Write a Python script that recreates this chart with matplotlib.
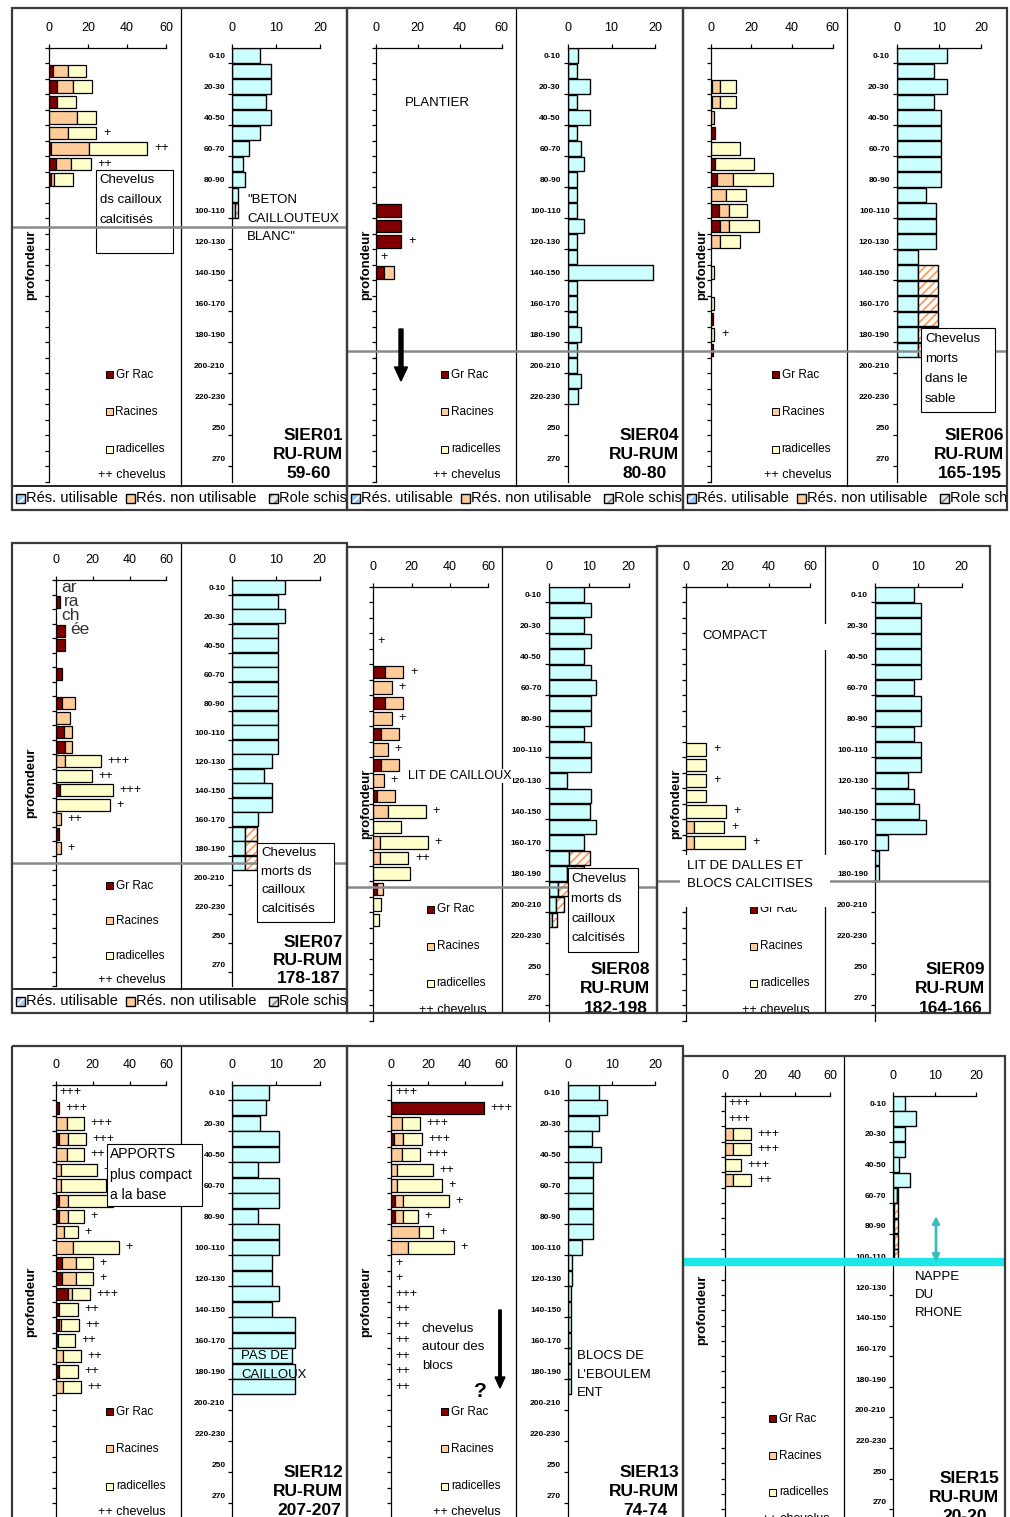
import numpy as np
import matplotlib.pyplot as plt
from matplotlib.patches import Rectangle, FancyArrow

plt.rcParams['font.family'] = ['Liberation Sans', 'DejaVu Sans']
plt.rcParams['hatch.linewidth'] = 1.3

W, H = 1010, 1517
NROWS = 28

# classes de profondeur (cm)
depth_labels = ['0-10', '10-20', '20-30', '30-40', '40-50', '50-60', '60-70', '70-80',
                '80-90', '90-100', '100-110', '110-120', '120-130', '130-140',
                '140-150', '150-160', '160-170', '170-180', '180-190', '190-200',
                '200-210', '210-220', '220-230', '230-240', '250', '260', '270', '280']

# --- SIER01 ---
sier01_gr = [0, 2.0, 4.0, 4.0, 0, 0, 1.0, 3.9, 1.2]
sier01_rac = [0, 7.7, 8.6, 0, 14.3, 9.7, 19.6, 7.5, 1.3]
sier01_rad = [0, 9.5, 9.5, 9.7, 10.0, 14.6, 29.6, 10.0, 9.9]
sier01_chev = ['', '', '', '', '', '+', '++', '++', '']
sier01_ru = [6.3, 8.9, 8.9, 7.6, 8.9, 6.3, 3.7, 2.4, 3.0, 1.4, 0.7]
sier01_nu = [0, 0, 0, 0, 0, 0, 0, 0, 0, 0, 0.6]

# --- SIER04 ---
sier04_gr = [0, 0, 0, 0, 0, 0, 0, 0, 0, 0, 11.9, 11.9, 11.9, 0, 3.8]
sier04_rac = [0, 0, 0, 0, 0, 0, 0, 0, 0, 0, 0, 0, 0, 0, 4.8]
sier04_rad = [0, 0, 0, 0, 0, 0, 0, 0, 0, 0, 0, 0, 0, 0, 0]
sier04_chev = ['', '', '', '', '', '', '', '', '', '', '', '', '+', '+', '']
sier04_ru = [2.4, 2.2, 5.2, 2.2, 5.2, 2.2, 3.1, 3.8, 2.2, 2.2, 2.2, 3.8, 2.2, 2.2,
             19.5, 2.2, 2.2, 2.2, 3.1, 2.2, 2.2, 3.1, 2.4]
sier04_nu = []

# --- SIER06 ---
sier06_gr = [0, 0, 0.8, 0.8, 0, 2.0, 0, 2.0, 3.3, 0, 3.9, 4.8, 0, 0, 0, 0, 0, 1.0, 0, 1.0]
sier06_rac = [0, 0, 3.8, 3.8, 1.5, 0, 0, 0, 7.5, 7.5, 5.0, 4.1, 4.6, 0, 0, 0, 0, 0, 0, 0]
sier06_rad = [0, 0, 7.7, 7.7, 0, 0, 14.4, 19.3, 19.7, 10.0, 9.1, 14.7, 9.8, 0, 1.6, 0, 1.6, 0, 1.6, 0]
sier06_chev = ['', '', '', '', '', '', '', '', '', '', '', '', '', '', '', '', '', '', '+', '']
sier06_ru = [12.0, 8.9, 12.0, 8.9, 10.5, 10.5, 10.5, 10.5, 10.5, 6.9, 9.4, 9.4, 9.4,
             5.1, 5.1, 5.1, 5.1, 5.1, 5.1, 5.1]
sier06_nu = [0, 0, 0, 0, 0, 0, 0, 0, 0, 0, 0, 0, 0, 0, 4.6, 4.6, 4.6, 4.6, 4.6, 4.6]

# --- SIER07 ---
sier07_gr = [0, 2.0, 0, 5.1, 5.1, 0, 3.3, 0, 3.3, 0, 4.5, 5.1, 0, 0, 2.0, 0, 0, 1.5, 0]
sier07_rac = [0, 0, 0, 0, 0, 0, 0, 0, 7.2, 7.4, 4.2, 3.6, 4.7, 0, 0, 0, 2.5, 0, 2.5]
sier07_rad = [0, 0, 0, 0, 0, 0, 0, 0, 0, 0, 0, 0, 19.9, 19.6, 29.2, 29.3, 0, 0, 0]
sier07_chev = ['', '', '', '', '', '', '', '', '', '', '', '', '+++', '++', '+++', '+', '++', '', '+']
sier07_ru = [12.0, 10.4, 12.0, 10.4, 10.4, 10.4, 10.4, 10.4, 10.4, 10.4, 10.4, 10.4,
             9.0, 7.3, 9.0, 9.0, 5.8, 3.0, 3.0, 3.0]
sier07_nu = [0, 0, 0, 0, 0, 0, 0, 0, 0, 0, 0, 0, 0, 0, 0, 0, 0, 2.6, 2.6, 2.6]

# --- SIER08 ---
sier08_gr = [0, 0, 0, 0, 0, 6.1, 0, 6.1, 0, 3.8, 0, 3.8, 0, 2.1, 0, 0, 0, 0, 0, 2.1, 0, 0]
sier08_rac = [0, 0, 0, 0, 0, 9.6, 9.6, 9.6, 9.6, 9.6, 7.5, 9.6, 5.4, 9.3, 7.5, 0, 3.3, 3.3, 0, 3.1, 0, 0]
sier08_rad = [0, 0, 0, 0, 0, 0, 0, 0, 0, 0, 0, 0, 0, 0, 19.8, 14.4, 25.0, 15.0, 19.3, 0, 4.2, 3.1]
sier08_chev = ['', '', '', '+', '', '+', '+', '', '+', '', '+', '', '+', '', '+', '', '+', '++',
               '', '', '', '']
sier08_ru = [8.9, 10.5, 8.9, 10.5, 8.9, 10.5, 11.8, 10.5, 10.5, 8.9, 10.5, 10.5, 4.6,
             10.5, 10.2, 11.8, 8.9, 5.1, 4.6, 2.4, 1.8, 0.9]
sier08_nu = [0, 0, 0, 0, 0, 0, 0, 0, 0, 0, 0, 0, 0, 0, 0, 0, 0, 5.2, 4.1, 2.3, 1.9, 1.2]

# --- SIER09 ---
sier09_gr = [0, 0, 0, 0, 0, 0, 0, 0, 0, 0, 0, 0, 0, 0, 0, 0, 0]
sier09_rac = [0, 0, 0, 0, 0, 0, 0, 0, 0, 0, 0, 0, 0, 0, 0, 3.7, 3.7]
sier09_rad = [0, 0, 0, 0, 0, 0, 0, 0, 0, 0, 9.8, 9.8, 9.8, 9.8, 19.4, 14.5, 24.8]
sier09_chev = ['', '', '', '', '', '', '', '', '', '', '+', '', '+', '', '+', '+', '+']
sier09_ru = [9.0, 10.5, 10.5, 10.5, 10.5, 10.5, 9.0, 10.5, 10.5, 9.0, 10.5, 10.5, 7.7,
             9.0, 10.2, 11.8, 3.1, 1.0, 1.0]
sier09_nu = []

# --- SIER12 ---
sier12_gr = [0, 1.8, 0, 1.4, 0, 0, 0, 1.8, 1.8, 0, 0, 3.1, 3.1, 6.3, 1.4, 1.4, 1.3, 0, 1.8, 0]
sier12_rac = [0, 0, 5.8, 4.9, 5.8, 2.7, 2.7, 4.7, 4.5, 4.3, 9.4, 7.6, 7.6, 2.4, 0, 1.1, 0, 4.0, 0, 4.0]
sier12_rad = [0, 0, 9.6, 10.2, 9.6, 19.8, 24.3, 24.7, 8.7, 7.8, 25.0, 9.6, 9.6, 9.8, 10.4, 9.8,
              9.2, 9.6, 10.0, 9.6]
sier12_chev = ['+++', '+++', '+++', '+++', '++', '+', '', '', '+', '+', '+', '+', '+', '+++',
               '++', '++', '++', '++', '++', '++']
sier12_ru = [8.4, 7.6, 6.3, 10.7, 10.7, 5.8, 10.7, 10.7, 5.8, 10.7, 10.7, 9.0, 9.0, 10.7,
             9.0, 14.4, 14.4, 13.6, 14.4, 14.4]
sier12_nu = []

# --- SIER13 ---
sier13_gr = [0, 50.2, 0, 1.3, 0, 0, 0, 1.8, 1.8, 0, 0]
sier13_rac = [0, 0, 6.0, 5.2, 6.0, 2.9, 2.9, 4.7, 4.7, 14.9, 9.2]
sier13_rad = [0, 0, 9.4, 10.0, 9.4, 19.9, 24.8, 24.7, 8.2, 7.7, 25.0]
sier13_chev = ['+++', '+++', '+++', '+++', '+++', '++', '+', '+', '+', '+', '+', '+', '+', '+++',
               '++', '++', '++', '++', '++', '++']
sier13_ru = [7.2, 8.9, 7.2, 5.4, 7.5, 5.8, 5.8, 5.8, 5.8, 5.8, 3.1, 1.0, 1.0,
             0.6, 0.6, 0.6, 0.6, 0.6, 0.6, 0.6]
sier13_nu = []

# --- SIER15 ---
sier15_gr = [0, 0, 0, 0, 0, 0]
sier15_rac = [0, 0, 4.6, 4.6, 0, 4.6]
sier15_rad = [0, 0, 10.1, 10.1, 9.2, 10.1]
sier15_chev = ['+++', '+++', '+++', '+++', '+++', '++']
sier15_ru = [2.8, 5.4, 2.8, 2.8, 1.4, 4.1, 0.8, 0.1, 0.1, 0.1, 0.1]
sier15_nu = [0, 0, 0, 0, 0, 0, 0.4, 1.1, 1.1, 1.1, 1.1]

C_GR, C_RAC, C_RAD = '#800000', '#ffcc99', '#ffffcc'
C_RU, C_HATCH = '#ccffff', '#ff9c5c'

# mise en page (pixels)
panels = [
    dict(name='SIER01', rum='59-60', box=(12, 8, 347, 510), lx=(48.7, 166.3), rx=(232.3, 320.0),
         ytop=47.7, rh=15.5, div=180.5, legend=True, tx=343, shift=0,
         gr=sier01_gr, rac=sier01_rac, rad=sier01_rad, chev=sier01_chev, ru=sier01_ru, nu=sier01_nu),
    dict(name='SIER04', rum='80-80', box=(347, 8, 683, 510), lx=(375.7, 501.7), rx=(567.7, 655.3),
         ytop=47.7, rh=15.5, div=516, legend=True, tx=679, shift=0,
         gr=sier04_gr, rac=sier04_rac, rad=sier04_rad, chev=sier04_chev, ru=sier04_ru, nu=sier04_nu),
    dict(name='SIER06', rum='165-195', box=(683, 8, 1007, 510), lx=(710.7, 832.7), rx=(896.7, 981.3),
         ytop=47.7, rh=15.5, div=846.7, legend=True, tx=1004, shift=0,
         gr=sier06_gr, rac=sier06_rac, rad=sier06_rad, chev=sier06_chev, ru=sier06_ru, nu=sier06_nu),
    dict(name='SIER07', rum='178-187', box=(12, 543, 347, 1013), lx=(56, 166.3), rx=(232.3, 319.7),
         ytop=580, rh=14.5, div=180.7, legend=True, tx=343, shift=0,
         gr=sier07_gr, rac=sier07_rac, rad=sier07_rad, chev=sier07_chev, ru=sier07_ru, nu=sier07_nu),
    dict(name='SIER08', rum='182-198', box=(347, 547, 657, 1013), lx=(373.3, 488.3), rx=(548.7, 628.7),
         ytop=586.7, rh=15.5, div=501.7, legend=False, tx=650, shift=-0.3,
         gr=sier08_gr, rac=sier08_rac, rad=sier08_rad, chev=sier08_chev, ru=sier08_ru, nu=sier08_nu),
    dict(name='SIER09', rum='164-166', box=(657, 546, 990, 1013), lx=(686, 810), rx=(875, 961.7),
         ytop=586.7, rh=15.5, div=825, legend=False, tx=985, shift=-0.3,
         gr=sier09_gr, rac=sier09_rac, rad=sier09_rad, chev=sier09_chev, ru=sier09_ru, nu=sier09_nu),
    dict(name='SIER12', rum='207-207', box=(12, 1046, 347, 1530), lx=(56, 166.3), rx=(232.3, 319.7),
         ytop=1084.6, rh=15.5, div=181, legend=False, tx=343, shift=0,
         gr=sier12_gr, rac=sier12_rac, rad=sier12_rad, chev=sier12_chev, ru=sier12_ru, nu=sier12_nu),
    dict(name='SIER13', rum='74-74', box=(347, 1046, 683, 1530), lx=(391.3, 501.7), rx=(568, 655.3),
         ytop=1084.6, rh=15.5, div=516, legend=False, tx=679, shift=0,
         gr=sier13_gr, rac=sier13_rac, rad=sier13_rad, chev=sier13_chev, ru=sier13_ru, nu=sier13_nu),
    dict(name='SIER15', rum='20-20', box=(683, 1056, 1005, 1530), lx=(725.3, 830), rx=(893.3, 976.3),
         ytop=1095.7, rh=15.32, div=844.3, legend=False, tx=999, shift=0,
         gr=sier15_gr, rac=sier15_rac, rad=sier15_rad, chev=sier15_chev, ru=sier15_ru, nu=sier15_nu),
]

fig = plt.figure(figsize=(W / 100, H / 100), dpi=100)


def px_axes(x0, y0, x1, y1, z=0):
    return fig.add_axes([x0 / W, 1 - y1 / H, (x1 - x0) / W, (y1 - y0) / H], zorder=z)


def pad(v):
    v = np.asarray(v, dtype=float)
    return np.pad(v, (0, NROWS - len(v)))


def style(ax, xmax, xticks):
    ax.set_xlim(0, xmax)
    ax.set_ylim(NROWS, 0)
    ax.patch.set_visible(False)
    for s in ('right', 'bottom'):
        ax.spines[s].set_visible(False)
    for s in ('top', 'left'):
        ax.spines[s].set_linewidth(0.9)
    ax.xaxis.tick_top()
    ax.set_xticks(xticks)
    ax.tick_params(axis='x', length=3, width=0.9, labelsize=9, pad=7)


def draw_site(p):
    x0, y0, x1, y1 = p['box']
    ytop, rh = p['ytop'], p['rh']
    ybot = ytop + NROWS * rh
    rows = np.arange(NROWS) + 0.5

    # racines (gauche)
    axl = px_axes(p['lx'][0], ytop, p['lx'][1], ybot, z=1)
    style(axl, 60, [0, 20, 40, 60])
    axl.set_yticks(np.arange(0, NROWS + 1))
    axl.set_yticklabels([])
    axl.tick_params(axis='y', length=3, width=0.9)
    lefts = np.zeros(NROWS)
    for vals, col in ((pad(p['gr']), C_GR), (pad(p['rac']), C_RAC), (pad(p['rad']), C_RAD)):
        m = vals > 0
        axl.barh(rows[m], vals[m], left=lefts[m], height=0.8, color=col,
                 edgecolor='black', linewidth=0.9)
        lefts = lefts + vals
    for r, s in enumerate(p['chev']):
        if s:
            x = lefts[r] + 3.5 if lefts[r] > 0 else 2.0
            axl.text(x, r + 0.5, s, fontsize=9, va='center', ha='left')

    # reserve utile (droite)
    axr = px_axes(p['rx'][0], ytop, p['rx'][1], ybot, z=1)
    style(axr, 20, [0, 10, 20])
    axr.set_yticks(np.arange(0, NROWS, 2) + 0.5, labels=depth_labels[::2])
    axr.set_yticks(np.arange(1, NROWS, 2), minor=True)
    axr.tick_params(axis='y', which='major', length=0, pad=5, labelsize=6)
    axr.tick_params(axis='y', which='minor', length=3, width=0.9)
    for t in axr.get_yticklabels():
        t.set_fontweight('bold')
    ru, nu = pad(p['ru']), pad(p['nu'])
    m = ru > 0
    axr.barh(rows[m], ru[m], height=0.95, color=C_RU, edgecolor='black', linewidth=1)
    m = nu > 0
    axr.barh(rows[m], nu[m], left=ru[m], height=0.95, color='white', edgecolor=C_HATCH,
             hatch='////', linewidth=0)
    axr.barh(rows[m], nu[m], left=ru[m], height=0.95, fill=False, edgecolor='black', linewidth=1)

    # calque en pixels du panneau
    ov = px_axes(x0, y0, x1, y1, z=5)
    ov.set_xlim(x0, x1)
    ov.set_ylim(y1, y0)
    ov.axis('off')

    def Y(r):
        return ytop + r * rh

    sh = p['shift']
    div = p['div']
    for lab, col, r in (('Gr Rac', C_GR, 21.1), ('Racines', C_RAC, 23.5), ('radicelles', C_RAD, 25.9)):
        ov.add_patch(Rectangle((div - 75, Y(r + sh) - 3.5), 7, 7, fc=col, ec='black', lw=0.7))
        ov.text(div - 65, Y(r + sh), lab, fontsize=8.5, va='center', clip_on=True)
    ov.text(div - 15, Y(27.6 + sh), '++ chevelus', fontsize=9, ha='right', va='center', clip_on=True)

    ov.text(x0 + 19, Y(14), 'profondeur', rotation=90, fontsize=9.5, fontweight='bold',
            ha='center', va='center', clip_on=True)

    tx = p['tx']
    ov.text(tx, Y(25.0 + sh), p['name'], fontsize=12.5, fontweight='bold', ha='right', va='center',
            clip_on=True)
    ov.text(tx, Y(26.25 + sh), 'RU-RUM', fontsize=12.5, fontweight='bold', ha='right', va='center',
            clip_on=True)
    ov.text(tx - 34, Y(27.5 + sh), p['rum'], fontsize=12.5, fontweight='bold', ha='center', va='center',
            clip_on=True)

    leg_top = y1 - 24 if p['legend'] else y1
    ov.plot([div, div], [y0, leg_top], color='black', lw=0.9)
    if p['legend']:
        ov.plot([x0, x1], [leg_top, leg_top], color='black', lw=1.2)
        yc = (leg_top + y1) / 2
        ov.add_patch(Rectangle((x0 + 4, yc - 4.5), 9, 9, fc='#9cc8ff', ec='white', hatch='///', lw=0))
        ov.add_patch(Rectangle((x0 + 4, yc - 4.5), 9, 9, fill=False, ec='black', lw=1))
        ov.text(x0 + 14, yc, 'Rés. utilisable', fontsize=10.5, va='center', clip_on=True)
        ov.add_patch(Rectangle((x0 + 114, yc - 4.5), 9, 9, fc=C_RAC, ec='black', lw=1))
        ov.text(x0 + 124, yc, 'Rés. non utilisable', fontsize=10.5, va='center', clip_on=True)
        ov.add_patch(Rectangle((x0 + 257, yc - 4.5), 9, 9, fc='#e8e8e8', ec='#888888', hatch='///', lw=0))
        ov.add_patch(Rectangle((x0 + 257, yc - 4.5), 9, 9, fill=False, ec='black', lw=1))
        ov.text(x0 + 267, yc, 'Role schiste', fontsize=10.5, va='center', clip_on=True)

    ov.add_patch(Rectangle((x0, y0), x1 - x0, y1 - y0, fill=False, ec='#3a3a3a', lw=1.6,
                           clip_on=False, zorder=10))
    return ov, Y


def note_box(ov, x0, y0, x1, y1, z=3, edge=True):
    ov.add_patch(Rectangle((x0, y0), x1 - x0, y1 - y0, fc='white',
                           ec='black' if edge else 'none', lw=0.8, zorder=z))


def note_lines(ov, x, ys, texts, fs=9.5, z=4, **kw):
    for y, s in zip(ys, texts):
        ov.text(x, y, s, fontsize=fs, va='center', ha='left', zorder=z, clip_on=True, **kw)


def gray_line(ov, y, z=2):
    ov.axhline(y, color='#8a8a8a', lw=1.8, zorder=z)


ovs = [draw_site(p) for p in panels]

# SIER01
ov, Y = ovs[0]
note_box(ov, 96, 170, 173.3, 253.3, z=1)
note_lines(ov, 99.5, [180, 200, 220], ['Chevelus', 'ds cailloux', 'calcitisés'], z=1.5)
gray_line(ov, Y(11.57), z=2)
note_lines(ov, 247, [200, 219, 237], ['"BETON', 'CAILLOUTEUX', 'BLANC"'])

# SIER04
ov, Y = ovs[1]
note_lines(ov, 405, [103], ['PLANTIER'])
ov.add_patch(FancyArrow(401, 329, 0, 52, width=4, head_width=13, head_length=14,
                        length_includes_head=True, color='black', zorder=4))
gray_line(ov, Y(19.57))

# SIER06
ov, Y = ovs[2]
gray_line(ov, Y(19.57))
note_box(ov, 921, 328.3, 995, 412.3)
note_lines(ov, 925, [339, 359, 379, 399], ['Chevelus', 'morts', 'dans le', 'sable'])

# SIER07
ov, Y = ovs[3]
for x, y, s in ((61.7, 587.3, 'ar'), (64.3, 602, 'ra'), (61.7, 616, 'ch'), (70.7, 630, 'ée')):
    ov.text(x, y, s, fontsize=12.5, color='#333333', va='center', clip_on=True)
gray_line(ov, Y(19.55))
note_box(ov, 257.3, 842.7, 334, 921.7)
note_lines(ov, 261.3, [852.7, 871.7, 890, 909], ['Chevelus', 'morts ds', 'cailloux', 'calcitisés'])

# SIER08
ov, Y = ovs[4]
ov.text(408, 776, 'LIT DE CAILLOUX', fontsize=9, va='center', zorder=4, clip_on=True,
        bbox=dict(fc='white', ec='none', pad=1))
gray_line(ov, Y(19.4))
note_box(ov, 567.7, 868.3, 638.3, 951.7)
note_lines(ov, 571, [879, 899, 919, 938], ['Chevelus', 'morts ds', 'cailloux', 'calcitisés'])

# SIER09
ov, Y = ovs[5]
note_lines(ov, 702, [636], ['COMPACT'])
note_box(ov, 820, 624, 830, 650, edge=False)
gray_line(ov, Y(18.97))
note_box(ov, 680, 855, 830, 907, edge=False)
note_lines(ov, 687, [866, 884], ['LIT DE DALLES ET', 'BLOCS CALCITISES'])

# SIER12
ov, Y = ovs[6]
note_box(ov, 106.7, 1144.3, 202, 1206)
note_lines(ov, 110, [1154.3, 1175, 1195], ['APPORTS', 'plus compact', 'a la base'], fs=10)
note_lines(ov, 241, [1356, 1375], ['PAS DE', 'CAILLOUX'])

# SIER13
ov, Y = ovs[7]
note_lines(ov, 421.7, [1328.7, 1347.3, 1365.7], ['chevelus', 'autour des', 'blocs'])
ov.add_patch(FancyArrow(500, 1310, 0, 78, width=2.5, head_width=10, head_length=11,
                        length_includes_head=True, color='black', zorder=4))
ov.text(480, 1391.7, '?', fontsize=15, fontweight='bold', ha='center', va='center')
note_lines(ov, 576.7, [1356, 1375, 1393], ['BLOCS DE', "L'EBOULEM", 'ENT'])

# SIER15
ov, Y = ovs[8]
ov.axhline(1262.3, color='#1ee6e6', lw=6, zorder=4)
ov.annotate('', xy=(936, 1216), xytext=(936, 1262),
            arrowprops=dict(arrowstyle='<|-|>', color='#3cbcbc', lw=2, mutation_scale=10,
                            shrinkA=0, shrinkB=0), zorder=4)
note_lines(ov, 915.3, [1276.7, 1295, 1313.3], ['NAPPE', 'DU', 'RHONE'])

fig.savefig('out.png', dpi=100)
